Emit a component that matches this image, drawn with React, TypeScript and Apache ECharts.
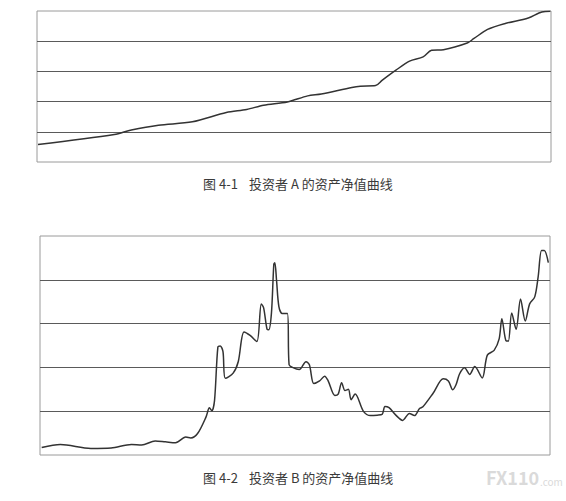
import React, { useEffect, useRef } from "react";
import * as echarts from "echarts";

// Chart A (图 4-1): time position (% of period) and net asset value
const timeA = [0.2, 15.05, 18.35, 23.63, 30.23, 36.83, 40.79, 44.09, 48.71, 52.67, 55.31, 61.25, 62.9, 65.87, 67.19, 69.83, 72.48, 75.12, 76.77, 79.08, 83.7, 85.02, 87.66, 90.96, 95.58, 98.22, 99.87];
const valueA = [0.58, 0.91, 1.06, 1.22, 1.33, 1.64, 1.74, 1.88, 1.99, 2.19, 2.25, 2.47, 2.51, 2.53, 2.71, 3.04, 3.34, 3.48, 3.7, 3.72, 3.94, 4.09, 4.39, 4.58, 4.77, 4.97, 4.99];

// Chart B (图 4-2)
const timeB = [0.33, 3.99, 9.97, 13.95, 17.94, 19.93, 22.59, 24.58, 26.58, 28.57, 29.57, 30.9, 32.56, 33.22, 33.69, 34.22, 34.88, 35.35, 35.88, 36.35, 37.87, 38.87, 40.0, 41.2, 42.52, 43.39, 43.85, 44.52, 44.85, 45.38, 45.85, 46.05, 46.38, 46.84, 47.51, 48.5, 48.84, 49.5, 50.83, 52.16, 52.82, 53.69, 54.82, 55.81, 56.48, 57.81, 58.47, 59.14, 59.8, 60.47, 61.0, 61.79, 63.46, 64.78, 66.11, 67.11, 67.64, 68.44, 69.77, 71.1, 72.43, 73.42, 74.42, 75.08, 77.08, 79.07, 80.07, 80.93, 81.59, 82.26, 83.26, 84.25, 85.25, 86.71, 87.71, 89.04, 90.03, 90.56, 91.36, 91.83, 92.49, 93.36, 94.22, 95.15, 96.01, 97.01, 97.67, 98.34, 98.87, 99.67];
const valueB = [0.17, 0.24, 0.15, 0.16, 0.24, 0.23, 0.32, 0.3, 0.28, 0.41, 0.39, 0.49, 0.87, 1.08, 1.01, 1.24, 2.47, 2.49, 2.36, 1.75, 1.87, 2.13, 2.81, 2.73, 2.59, 3.45, 3.36, 2.87, 2.86, 3.24, 4.36, 4.39, 3.99, 3.39, 3.23, 3.23, 2.06, 2.0, 1.95, 2.13, 2.06, 1.63, 1.69, 1.8, 1.7, 1.36, 1.39, 1.65, 1.47, 1.5, 1.26, 1.39, 0.99, 0.9, 0.91, 0.93, 1.11, 1.08, 0.91, 0.79, 0.95, 0.9, 1.06, 1.1, 1.41, 1.74, 1.69, 1.49, 1.61, 1.85, 1.99, 1.84, 2.02, 1.76, 2.28, 2.39, 2.65, 3.11, 2.61, 2.6, 3.24, 2.87, 3.56, 3.06, 3.45, 3.61, 4.06, 4.67, 4.67, 4.39];

const yTicks = [0, 1, 2, 3, 4, 5];

const captionA = ["图 4-1", "投资者 A 的资产净值曲线"];
const captionB = ["图 4-2", "投资者 B 的资产净值曲线"];
const watermark = ["FX110", ".com"];

const FONT = '"Noto Sans CJK SC", "Noto Sans", sans-serif';

export default function App() {
  const ref = useRef<HTMLDivElement>(null);
  useEffect(() => {
    document.body.style.margin = "0";
    if (!ref.current) return;
    const chart = echarts.init(ref.current, undefined, { renderer: "svg" });
    const xAxisBase = (gridIndex: number) => ({
      type: "value" as const,
      gridIndex,
      min: 0,
      max: 100,
      axisLine: { show: false },
      axisTick: { show: false },
      axisLabel: { show: false },
      splitLine: { show: false },
    });
    const yAxisBase = (gridIndex: number) => ({
      type: "value" as const,
      gridIndex,
      min: yTicks[0],
      max: yTicks[yTicks.length - 1],
      interval: 1,
      axisLine: { show: false },
      axisTick: { show: false },
      axisLabel: { show: false },
      splitLine: {
        show: true,
        showMinLine: false,
        showMaxLine: false,
        lineStyle: { color: "#5a5a5a", width: 1 },
      },
    });
    const caption = (parts: string[], y: number) => [
      {
        type: "text",
        left: 203,
        top: y,
        style: { text: parts[0], font: `13px ${FONT}`, fill: "#3a3a3a" },
      },
      {
        type: "text",
        left: 249,
        top: y,
        style: { text: parts[1], font: `13px ${FONT}`, fill: "#3a3a3a" },
      },
    ];
    chart.setOption({
      animation: false,
      backgroundColor: "#ffffff",
      grid: [
        { left: 37, top: 11, width: 514, height: 151, show: true, borderColor: "#9a9a9a", borderWidth: 1, backgroundColor: "transparent" },
        { left: 40, top: 236, width: 510, height: 219, show: true, borderColor: "#9a9a9a", borderWidth: 1, backgroundColor: "transparent" },
      ],
      xAxis: [xAxisBase(0), xAxisBase(1)],
      yAxis: [yAxisBase(0), yAxisBase(1)],
      series: [
        {
          type: "line",
          xAxisIndex: 0,
          yAxisIndex: 0,
          data: timeA.map((t, i) => [t, valueA[i]]),
          smooth: 0.3,
          showSymbol: false,
          lineStyle: { color: "#333333", width: 1.5 },
        },
        {
          type: "line",
          xAxisIndex: 1,
          yAxisIndex: 1,
          data: timeB.map((t, i) => [t, valueB[i]]),
          smooth: 0.3,
          showSymbol: false,
          lineStyle: { color: "#333333", width: 1.5 },
        },
      ],
      graphic: [
        ...caption(captionA, 177),
        ...caption(captionB, 471),
        {
          type: "text",
          left: 486,
          top: 468,
          style: { text: watermark[0], font: `bold 18px ${FONT}`, fill: "#dadada" },
        },
        {
          type: "text",
          left: 540,
          top: 476,
          style: { text: watermark[1], font: `10px ${FONT}`, fill: "#dadada" },
        },
      ],
    });
    return () => chart.dispose();
  }, []);
  return <div ref={ref} style={{ width: 566, height: 501, position: "absolute", left: 0, top: 0 }} />;
}
